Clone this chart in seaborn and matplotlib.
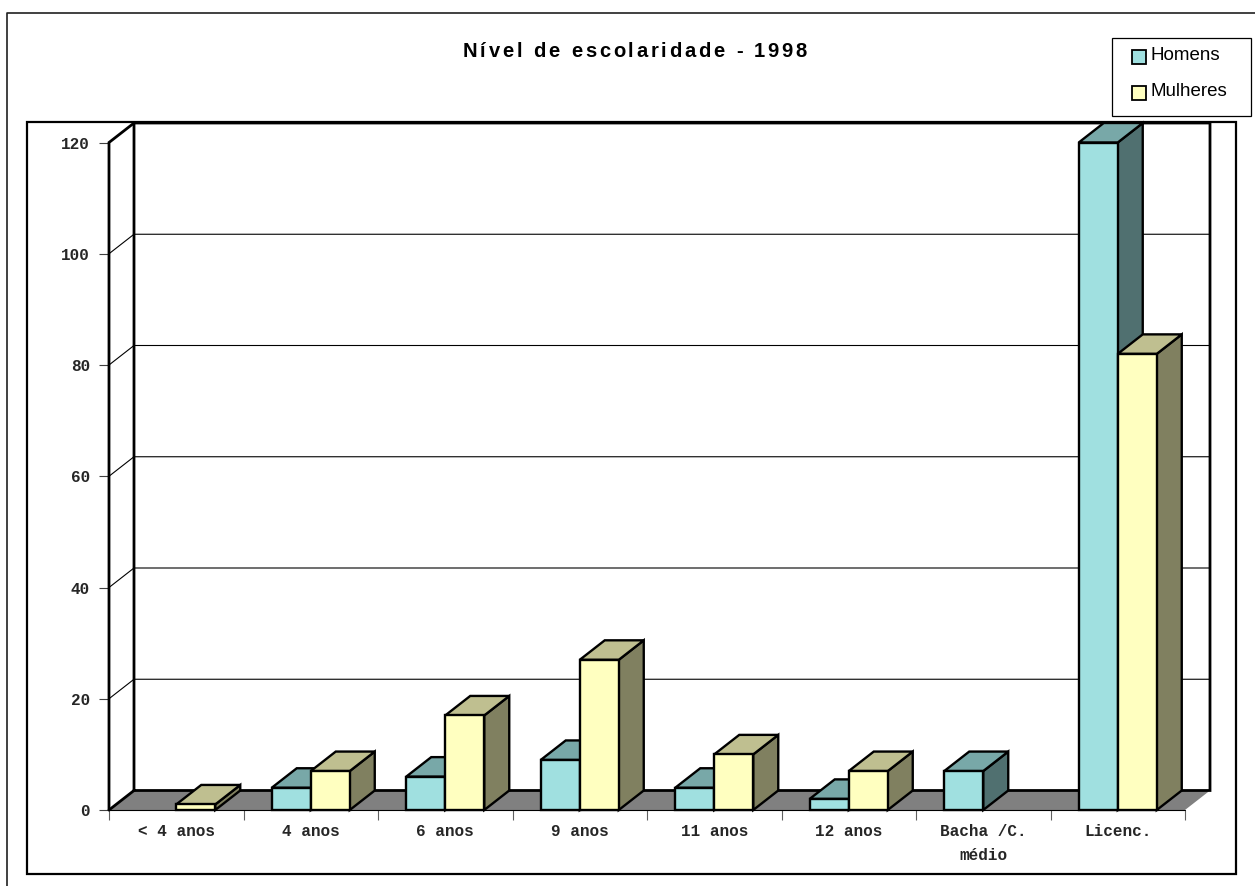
import numpy as np
import pandas as pd
import matplotlib
matplotlib.use("Agg")
import matplotlib.pyplot as plt
import seaborn as sns
from matplotlib.patches import Polygon, Rectangle
from matplotlib.lines import Line2D
from matplotlib.transforms import Affine2D
from matplotlib.font_manager import FontProperties

# ---- data -------------------------------------------------------------
categories = ["< 4 anos", "4 anos", "6 anos", "9 anos", "11 anos",
              "12 anos", "Bacha /C.\nmédio", "Licenc."]
series = ["Homens", "Mulheres"]
homens = [0, 4, 6, 9, 4, 2, 7, 120]
mulheres = [1, 7, 17, 27, 10, 7, 0, 82]
y_ticks = [0, 20, 40, 60, 80, 100, 120]
title = "Nível de escolaridade - 1998"

front_colors = {"Homens": "#A0E0E0", "Mulheres": "#FFFFC0"}

df = pd.DataFrame({
    "nivel": categories * 2,
    "sexo": [series[0]] * len(categories) + [series[1]] * len(categories),
    "n": homens + mulheres,
})

# ---- figure / styling --------------------------------------------------
sns.set_theme(style="white")
plt.rcParams["font.family"] = ["Liberation Sans", "DejaVu Sans"]
MONO = FontProperties(family="Liberation Mono", weight="bold", size=11.5)

W, H = 1255, 886
fig = plt.figure(figsize=(W / 100, H / 100), dpi=100)
fig.patch.set_facecolor("white")
# image-pixel transform (origin top-left)
PIX = Affine2D().scale(1, -1).translate(0, H)

# axes box: front-left corner of the floor to the back-right top corner
AX_L, AX_R, AX_B, AX_T = 109, 1210, 810, 123
ax = fig.add_axes([AX_L / W, (H - AX_B) / H, (AX_R - AX_L) / W, (AX_B - AX_T) / H])
ax.patch.set_alpha(0)

n_cat = len(categories)
y_max = y_ticks[-1]
DEPTH_PX_X, DEPTH_PX_Y = 25, 19.5
ppu_x = (AX_R - AX_L - DEPTH_PX_X) / n_cat
ppu_y = (AX_B - AX_T - DEPTH_PX_Y) / y_max
DX = DEPTH_PX_X / ppu_x
DY = DEPTH_PX_Y / ppu_y

BAR_LW = 1.7
sns.barplot(data=df, x="nivel", y="n", hue="sexo", hue_order=series,
            order=categories, palette=front_colors, width=0.58,
            saturation=1, errorbar=None, legend=False, ax=ax,
            edgecolor="black", linewidth=BAR_LW)

ax.set_xlim(-0.5, n_cat - 0.5 + DX)
ax.set_ylim(0, y_max + DY)
for s in ax.spines.values():
    s.set_visible(False)
ax.set_xlabel("")
ax.set_ylabel("")

THICK = 2.0
THIN = 0.8
x0w, x1w = -0.5, n_cat - 0.5

# back wall, left wall, floor
ax.add_patch(Rectangle((x0w + DX, DY), n_cat, y_max, facecolor="white",
                       edgecolor="none", zorder=0.5, clip_on=False))
ax.add_patch(Polygon([(x0w, 0), (x0w + DX, DY), (x0w + DX, y_max + DY), (x0w, y_max)],
                     closed=True, facecolor="white", edgecolor="none",
                     zorder=0.5, clip_on=False))
for v in y_ticks[1:-1]:
    ax.add_line(Line2D([x0w, x0w + DX, x1w + DX], [v, v + DY, v + DY],
                       color="black", lw=THIN, zorder=0.6, clip_on=False))
ax.add_patch(Polygon([(x0w, 0), (x1w, 0), (x1w + DX, DY), (x0w + DX, DY)],
                     closed=True, facecolor="#808080", edgecolor="none",
                     zorder=0.7, clip_on=False))
ax.add_line(Line2D([x0w, x1w], [0, 0], color="black", lw=THIN, zorder=0.8, clip_on=False))
ax.add_line(Line2D([x0w, x0w + DX, x1w + DX, x1w + DX, x0w + DX, x0w + DX],
                   [0, DY, DY, y_max + DY, y_max + DY, DY],
                   color="black", lw=THICK, zorder=0.8, clip_on=False,
                   solid_joinstyle="miter"))
ax.add_line(Line2D([x0w, x0w, x0w + DX], [0, y_max, y_max + DY],
                   color="black", lw=THICK, zorder=0.8, clip_on=False,
                   solid_joinstyle="miter"))


def shade(hex_color, k):
    rgb = np.array(matplotlib.colors.to_rgb(hex_color))
    return tuple(rgb * k)


# extrude every seaborn bar into a box
for j, cont in enumerate(ax.containers):
    col = front_colors[series[j]]
    for i, bar in enumerate(cont.patches):
        h = bar.get_height()
        base = 2 + (i * 2 + j) * 0.01
        if not np.isfinite(h) or h <= 0:
            bar.set_visible(False)
            continue
        x = bar.get_x()
        w = bar.get_width()
        top = [(x, h), (x + w, h), (x + w + DX, h + DY), (x + DX, h + DY)]
        side = [(x + w, 0), (x + w + DX, DY), (x + w + DX, h + DY), (x + w, h)]
        ax.add_patch(Polygon(side, closed=True, facecolor=shade(col, 0.5),
                             edgecolor="black", lw=BAR_LW, joinstyle="miter",
                             zorder=base, clip_on=False))
        ax.add_patch(Polygon(top, closed=True, facecolor=shade(col, 0.75),
                             edgecolor="black", lw=BAR_LW, joinstyle="miter",
                             zorder=base + 0.001, clip_on=False))
        bar.set_zorder(base + 0.002)
        bar.set_joinstyle("miter")
        bar.set_clip_on(False)

# ticks
ax.set_yticks(y_ticks)
ax.set_yticklabels([str(v) for v in y_ticks])
ax.tick_params(axis="y", which="major", left=True, direction="out", length=7.2,
               width=0.8, color="#404040", pad=6.5)
for lab in ax.get_yticklabels():
    lab.set_fontproperties(MONO)

ax.set_xticks(np.arange(-0.5, n_cat, 1.0))
ax.set_xticklabels([])
ax.set_xticks(np.arange(n_cat), minor=True)
ax.set_xticklabels(categories, minor=True)
ax.tick_params(axis="x", which="major", bottom=True, direction="out", length=7.2,
               width=0.8, color="#606060")
ax.tick_params(axis="x", which="minor", bottom=True, length=0, pad=10)
for lab in ax.get_xticklabels(minor=True):
    lab.set_fontproperties(MONO)
    lab.set_linespacing(1.75)

# plot-area frame and outer chart frame
fig.add_artist(Rectangle((27, 122), 1236 - 27, 874 - 122, transform=PIX,
                         fill=False, edgecolor="black", lw=1.6))
fig.add_artist(Line2D([7, 7, W + 5], [H + 5, 13, 13], transform=PIX,
                      color="#202020", lw=1.2))

# legend box
fig.add_artist(Rectangle((1112, 38), 1251 - 1112, 116 - 38, transform=PIX,
                         facecolor="white", edgecolor="black", lw=0.9))
for k, (name, yc) in enumerate(zip(series, [57, 93])):
    fig.add_artist(Rectangle((1132, yc - 7), 14, 14, transform=PIX,
                             facecolor=front_colors[name], edgecolor="black", lw=1.3))
    fig.text(1151, yc + 3, name, transform=PIX, fontsize=13.5, ha="left",
             va="baseline", color="black")

# title with wide letter spacing, placed glyph by glyph
renderer = fig.canvas.get_renderer()
tprop = FontProperties(family="Liberation Sans", weight="bold", size=14.5)


def text_w(s):
    w, _, _ = renderer.get_text_width_height_descent(s, tprop, ismath=False)
    return w


ref_w = text_w("x")
lefts = [text_w(title[:k] + "x") - ref_w for k in range(len(title))]
natural = text_w(title)
T_L, T_R, T_BASE = 463, 807, 57
gap = (T_R - T_L - natural) / (len(title) - 1)
for k, ch in enumerate(title):
    if ch == " ":
        continue
    fig.text(T_L + lefts[k] + k * gap, T_BASE, ch, transform=PIX,
             fontproperties=tprop, ha="left", va="baseline", color="black")

fig.savefig("out.png", dpi=100)
